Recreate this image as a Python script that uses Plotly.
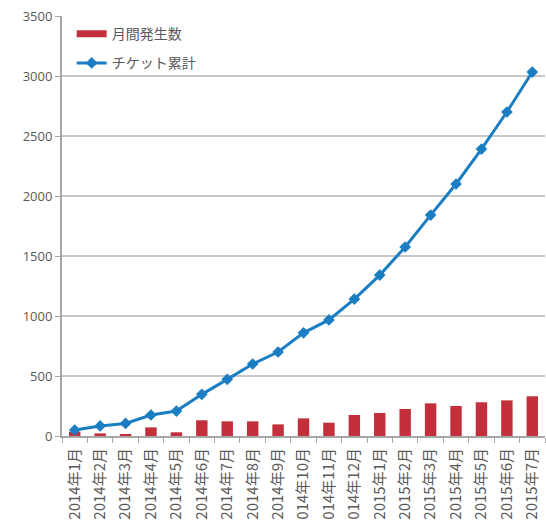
import plotly.graph_objects as go

months = ["2014年1月", "2014年2月", "2014年3月", "2014年4月", "2014年5月", "2014年6月",
          "2014年7月", "2014年8月", "2014年9月", "2014年10月", "2014年11月", "2014年12月",
          "2015年1月", "2015年2月", "2015年3月", "2015年4月", "2015年5月", "2015年6月", "2015年7月"]
monthly = [36, 22, 14, 72, 31, 131, 122, 122, 97, 147, 111, 175, 192, 225, 272, 250, 281, 297, 331]
cumulative = [50, 84, 105, 175, 208, 347, 472, 600, 700, 860, 967, 1141, 1341, 1575, 1841, 2100, 2391, 2700, 3033]

RED = "#C3303C"
BLUE = "#1B7DC2"
FONT = "Noto Sans CJK JP"

fig = go.Figure()
fig.add_trace(go.Bar(x=months, y=monthly, marker=dict(color=RED, line=dict(width=0)),
                     name="月間発生数", showlegend=False))
fig.add_trace(go.Scatter(x=[None], y=[None], mode="lines", line=dict(color=RED, width=7),
                         name="月間発生数", legendgroup="a"))
fig.add_trace(go.Scatter(x=months, y=cumulative, mode="lines+markers",
                         line=dict(color=BLUE, width=3),
                         marker=dict(symbol="diamond", size=9, color=BLUE),
                         name="チケット累計", legendgroup="b"))

fig.update_layout(
    width=546, height=520,
    margin=dict(l=62, r=1, t=16, b=84, autoexpand=False),
    paper_bgcolor="white", plot_bgcolor="white",
    bargap=0.55,
    font=dict(family=FONT, size=13, color="#595959"),
    legend=dict(x=0.02, y=0.995, xanchor="left", yanchor="top",
                bgcolor="rgba(0,0,0,0)", font=dict(family=FONT, size=14, color="#595959"),
                traceorder="grouped", tracegroupgap=8, itemwidth=30),
    xaxis=dict(type="category", range=[-0.5, 18.5], tickangle=-90,
               tickfont=dict(family=FONT, size=15, color="#595959"),
               ticklabelstandoff=4,
               showline=True, linecolor="#A6A6A6", linewidth=2,
               ticks="outside", tickson="boundaries", ticklen=5, tickcolor="#A6A6A6",
               showgrid=False, automargin=False, fixedrange=True),
    yaxis=dict(range=[0, 3500], dtick=500, tickformat="d",
               tickfont=dict(family="Open Sans", size=13, color="#595959"),
               showline=True, linecolor="#A6A6A6", linewidth=2,
               ticks="outside", ticklen=5, tickcolor="#A6A6A6",
               showgrid=True, gridcolor="#C8C8C8", gridwidth=2,
               zeroline=False, automargin=False, fixedrange=True),
)

fig.write_html("out.html")
